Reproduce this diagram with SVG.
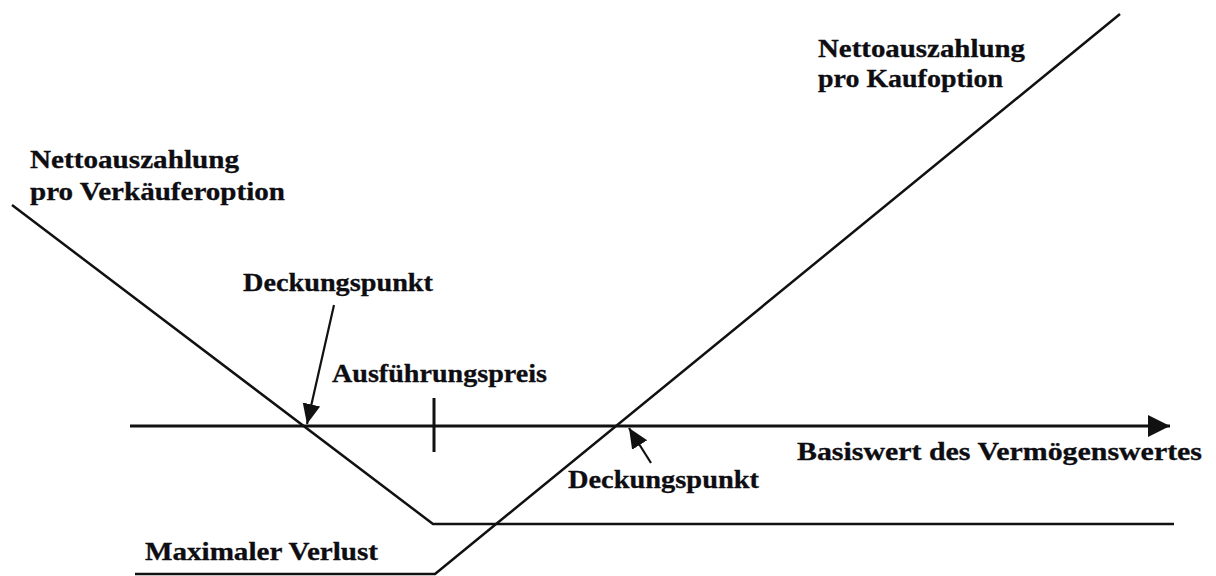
<svg xmlns="http://www.w3.org/2000/svg" width="1216" height="576" viewBox="0 0 1216 576">
  <style>
    .lbl { font-family: "Liberation Serif", "Times New Roman", serif; font-weight: bold; font-size: 25px; fill: #0d0d12; stroke: #0d0d12; stroke-width: 0.3; }
    .ln { fill: none; stroke: #111; stroke-width: 2.5; stroke-linejoin: round; }
    .ax { fill: none; stroke: #111; stroke-width: 3; }
    .ptr { fill: none; stroke: #111; stroke-width: 2.2; }
  </style>
  <defs>
    <marker id="axHead" markerUnits="userSpaceOnUse" markerWidth="22" markerHeight="22" viewBox="0 0 20 20" refX="20" refY="10" orient="auto">
      <path d="M0,0 L20,10 L0,20 Z" fill="#111"/>
    </marker>
    <marker id="ptrHead" markerUnits="userSpaceOnUse" markerWidth="20" markerHeight="20" viewBox="0 0 18 18" refX="18" refY="9" orient="auto">
      <path d="M0,1 L18,9 L0,17 Z" fill="#111"/>
    </marker>
  </defs>
  <rect width="1216" height="576" fill="#fff"/>

  <g id="connectors">
    <!-- price axis with strike tick -->
    <line id="axis" class="ax" x1="130" y1="426" x2="1170" y2="426" marker-end="url(#axHead)"/>
    <line id="strike-tick" class="ax" x1="434" y1="398" x2="434" y2="452"/>
    <!-- break-even pointers -->
    <line id="ptr-put" class="ptr" x1="334" y1="305" x2="307" y2="424" marker-end="url(#ptrHead)"/>
    <line id="ptr-call" class="ptr" x1="651" y1="463" x2="629" y2="428" marker-end="url(#ptrHead)"/>
  </g>

  <!-- put payoff: falling to strike, then flat at max loss -->
  <g id="put-payoff">
    <polyline class="ln" points="12,205 433,524 1174,524"/>
  </g>

  <!-- call payoff: flat at max loss, then rising -->
  <g id="call-payoff">
    <polyline class="ln" points="135,574 435,574 1120,14"/>
  </g>

  <g id="label-put">
    <text class="lbl" x="30" y="168" textLength="209" lengthAdjust="spacingAndGlyphs">Nettoauszahlung</text>
    <text class="lbl" x="30" y="200" textLength="255" lengthAdjust="spacingAndGlyphs">pro Verkäuferoption</text>
  </g>
  <g id="label-call">
    <text class="lbl" x="818" y="57" textLength="207" lengthAdjust="spacingAndGlyphs">Nettoauszahlung</text>
    <text class="lbl" x="818" y="87" textLength="185" lengthAdjust="spacingAndGlyphs">pro Kaufoption</text>
  </g>
  <g id="label-breakeven-put">
    <text class="lbl" x="243" y="291" textLength="190" lengthAdjust="spacingAndGlyphs">Deckungspunkt</text>
  </g>
  <g id="label-strike">
    <text class="lbl" x="332" y="382" textLength="215" lengthAdjust="spacingAndGlyphs">Ausführungspreis</text>
  </g>
  <g id="label-breakeven-call">
    <text class="lbl" x="568" y="488" textLength="191" lengthAdjust="spacingAndGlyphs">Deckungspunkt</text>
  </g>
  <g id="label-axis">
    <text class="lbl" x="797" y="460" textLength="405" lengthAdjust="spacingAndGlyphs">Basiswert des Vermögenswertes</text>
  </g>
  <g id="label-maxloss">
    <text class="lbl" x="145" y="560" textLength="233" lengthAdjust="spacingAndGlyphs">Maximaler Verlust</text>
  </g>
</svg>
